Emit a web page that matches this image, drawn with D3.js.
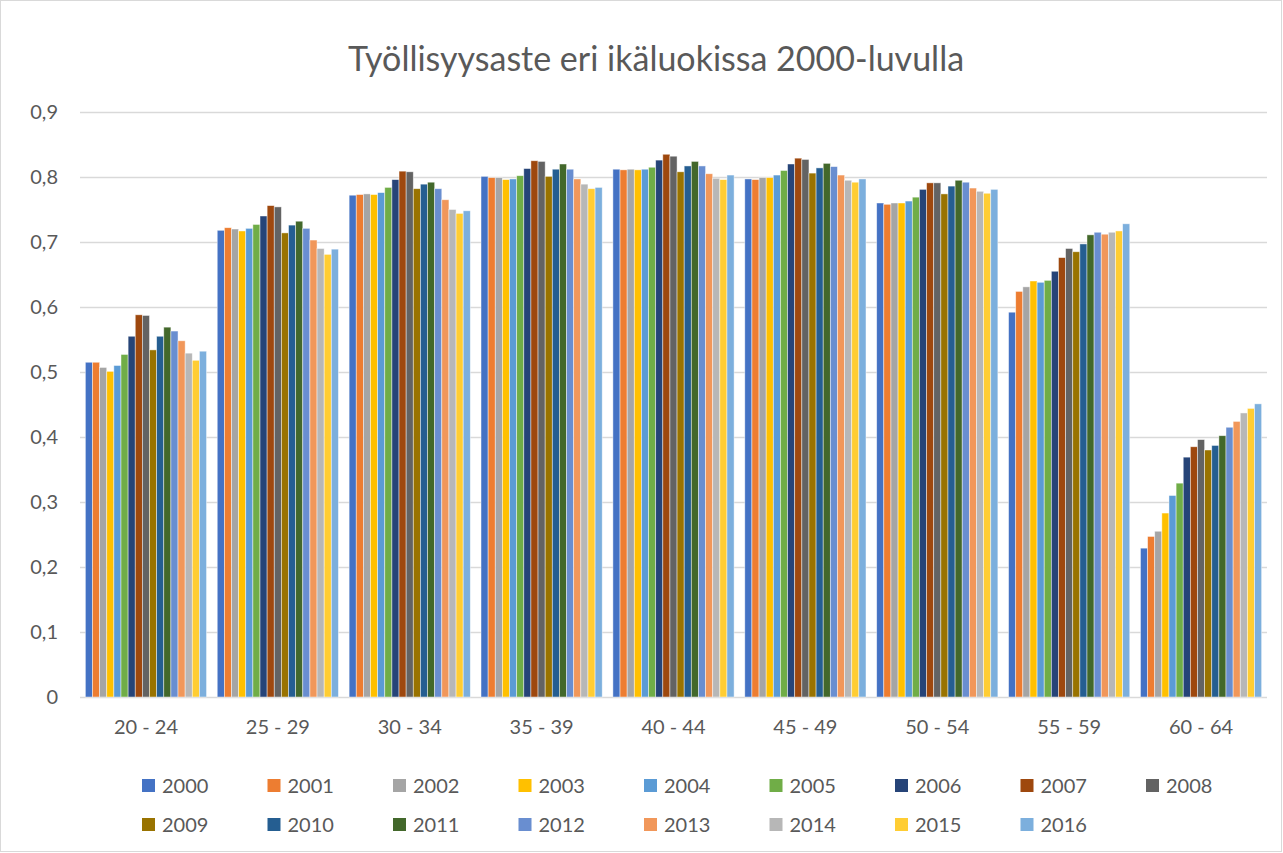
<!DOCTYPE html>
<html>
<head>
<meta charset="utf-8">
<script src="https://cdn.jsdelivr.net/npm/d3@7"></script>
<style>
	body { margin: 0; background: #fff; }
	text { font-family: Lato, "Open Sans", sans-serif; fill: #595959; }
</style>
</head>
<body>
<div id="chart"></div>
<script>
const ageGroups = ['20 - 24', '25 - 29', '30 - 34', '35 - 39', '40 - 44', '45 - 49', '50 - 54', '55 - 59', '60 - 64'];
const years = ['2000', '2001', '2002', '2003', '2004', '2005', '2006', '2007', '2008',
	'2009', '2010', '2011', '2012', '2013', '2014', '2015', '2016'];
const yearColors = ['#4472C4', '#ED7D31', '#A5A5A5', '#FFC000', '#5B9BD5', '#70AD47', '#264478', '#9E480E', '#636363',
	'#997300', '#255E91', '#43682B', '#698ED0', '#F1975A', '#B7B7B7', '#FFCD33', '#7CAFDD'];
const yTicks = [0, 0.1, 0.2, 0.3, 0.4, 0.5, 0.6, 0.7, 0.8, 0.9];

// one row per age group, one value per year 2000..2016
const rate2024 = [0.515, 0.515, 0.507, 0.501, 0.510, 0.527, 0.555, 0.588, 0.587, 0.534, 0.555, 0.569, 0.563, 0.548, 0.529, 0.518, 0.532];
const rate2529 = [0.718, 0.722, 0.720, 0.717, 0.721, 0.727, 0.740, 0.756, 0.754, 0.714, 0.726, 0.732, 0.721, 0.703, 0.690, 0.681, 0.689];
const rate3034 = [0.772, 0.773, 0.774, 0.773, 0.776, 0.784, 0.796, 0.809, 0.808, 0.782, 0.789, 0.792, 0.782, 0.765, 0.750, 0.744, 0.748];
const rate3539 = [0.801, 0.799, 0.799, 0.796, 0.797, 0.802, 0.813, 0.825, 0.824, 0.801, 0.812, 0.820, 0.812, 0.797, 0.789, 0.782, 0.784];
const rate4044 = [0.812, 0.811, 0.812, 0.811, 0.812, 0.815, 0.826, 0.835, 0.832, 0.808, 0.817, 0.824, 0.817, 0.805, 0.798, 0.796, 0.803];
const rate4549 = [0.797, 0.796, 0.799, 0.799, 0.803, 0.810, 0.820, 0.829, 0.827, 0.806, 0.814, 0.821, 0.816, 0.803, 0.795, 0.792, 0.797];
const rate5054 = [0.760, 0.758, 0.760, 0.760, 0.763, 0.769, 0.781, 0.791, 0.791, 0.774, 0.786, 0.795, 0.792, 0.783, 0.778, 0.775, 0.781];
const rate5559 = [0.592, 0.624, 0.631, 0.640, 0.638, 0.641, 0.655, 0.676, 0.690, 0.685, 0.697, 0.711, 0.715, 0.712, 0.715, 0.717, 0.728];
const rate6064 = [0.229, 0.247, 0.255, 0.283, 0.310, 0.329, 0.369, 0.385, 0.396, 0.380, 0.387, 0.402, 0.415, 0.424, 0.437, 0.444, 0.451];
const rates = [rate2024, rate2529, rate3034, rate3539, rate4044, rate4549, rate5054, rate5559, rate6064];

const width = 1283;
const height = 853;
const margin = { top: 112, right: 16, bottom: 156, left: 80 };

const svg = d3.select('#chart').append('svg')
	.attr('width', width)
	.attr('height', height);

// chart area border
svg.append('rect')
	.attr('x', 0.5).attr('y', 0.5)
	.attr('width', width - 2).attr('height', height - 2)
	.attr('fill', '#fff')
	.attr('stroke', '#d9d9d9');

const x0 = d3.scaleBand()
	.domain(ageGroups)
	.range([margin.left, width - margin.right]);
const x1 = d3.scaleBand()
	.domain(years)
	.range([0, x0.bandwidth()])
	.paddingOuter(0.75)
	.paddingInner(0);
const y = d3.scaleLinear()
	.domain([0, 0.9])
	.range([height - margin.bottom, margin.top]);
const color = d3.scaleOrdinal().domain(years).range(yearColors);
const fmt = v => d3.format('.1~f')(v).replace('.', ',');

// gridlines
svg.append('g')
	.selectAll('line')
	.data(yTicks)
	.enter().append('line')
		.attr('x1', margin.left)
		.attr('x2', width - margin.right)
		.attr('y1', d => Math.round(y(d)) + 0.5)
		.attr('y2', d => Math.round(y(d)) + 0.5)
		.attr('stroke', '#d9d9d9')
		.attr('stroke-width', 1.3);

// y axis labels
const yAxis = d3.axisLeft(y)
	.tickValues(yTicks)
	.tickFormat(fmt)
	.tickSize(0)
	.tickPadding(0);
svg.append('g')
	.attr('transform', `translate(${margin.left - 22}, 0)`)
	.call(yAxis)
	.call(g => g.select('.domain').remove())
	.selectAll('text')
		.style('font-size', '20px')
		.attr('fill', '#595959');

// bars
const groups = svg.append('g')
	.selectAll('g')
	.data(ageGroups)
	.enter().append('g')
		.attr('transform', d => `translate(${x0(d)}, 0)`);
groups.selectAll('rect')
	.data((d, i) => years.map((yr, j) => ({ year: yr, value: rates[i][j] })))
	.enter().append('rect')
		.attr('x', d => x1(d.year))
		.attr('y', d => y(d.value))
		.attr('width', x1.bandwidth())
		.attr('height', d => y(0) - y(d.value))
		.attr('fill', d => color(d.year))
		.attr('stroke', '#fff')
		.attr('stroke-opacity', 0.6)
		.attr('stroke-width', 0.75);

// x axis
const xAxis = d3.axisBottom(x0)
	.tickSize(0)
	.tickPadding(23);
svg.append('g')
	.attr('transform', `translate(0, ${y(0)})`)
	.call(xAxis)
	.call(g => g.select('.domain').remove())
	.selectAll('text')
		.style('font-size', '20px')
		.attr('fill', '#595959');

// title
svg.append('text')
	.attr('x', 656)
	.attr('y', 71)
	.attr('text-anchor', 'middle')
	.style('font-size', '34px')
	.text('Työllisyysaste eri ikäluokissa 2000-luvulla');

// legend
const legend = svg.append('g')
	.selectAll('g')
	.data(years)
	.enter().append('g')
		.attr('transform', (d, i) => `translate(${142 + (i % 9) * 125.5}, ${786 + Math.floor(i / 9) * 39})`);
legend.append('rect')
	.attr('x', 0)
	.attr('y', -7)
	.attr('width', 13)
	.attr('height', 13)
	.attr('fill', d => color(d));
legend.append('text')
	.attr('x', 20)
	.attr('y', 0)
	.attr('dy', '.35em')
	.style('font-size', '20px')
	.text(d => d);
</script>
</body>
</html>
